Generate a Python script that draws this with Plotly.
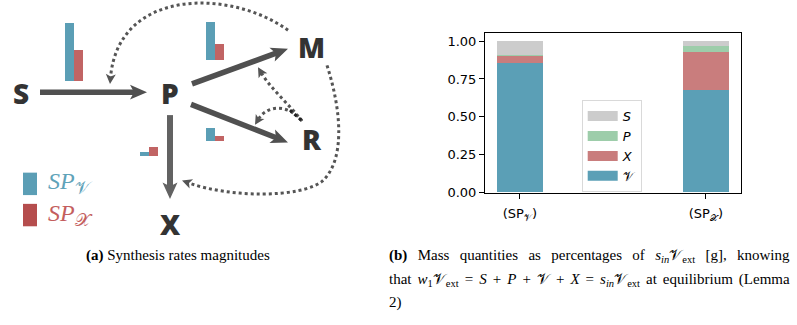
import math
import plotly.graph_objects as go

W, H = 797, 325

# ---------------- data: (b) mass fractions at equilibrium ----------------
conditions = ["(SP<sub>𝒱</sub>)", "(SP<sub>𝒳</sub>)"]
frac_V = [0.853, 0.677]
frac_X = [0.050, 0.247]
frac_P = [0.004, 0.039]
frac_S = [0.093, 0.037]
y_ticks = [0.0, 0.25, 0.5, 0.75, 1.0]

# ---------------- data: (a) synthesis rate magnitudes ----------------
reactions = ["S→P", "P→M", "P→R", "P→X"]
rate_SPV = [1.00, 0.68, 0.24, 0.07]
rate_SPX = [0.54, 0.29, 0.10, 0.15]

# colours
C_V = "#5b9fb6"
C_X = "#c97d7d"
C_P = "#9dcdaa"
C_S = "#cccccc"
C_MINI_V = "#5b9eb5"
C_MINI_X = "#c16464"
C_ARROW = "#505050"
C_DOT = "#555555"
C_NODE = "#333333"


def Y(py):
    return H - py


fig = go.Figure()

# ---------------- (b) stacked bars ----------------
xpos = list(range(len(conditions)))
for vals, col, name in [(frac_V, C_V, "V"), (frac_X, C_X, "X"),
                        (frac_P, C_P, "P"), (frac_S, C_S, "S")]:
    fig.add_trace(go.Bar(x=xpos, y=vals, width=0.25, marker_color=col,
                         marker_line_width=0, showlegend=False,
                         legendgroup=name, xaxis="x", yaxis="y"))

# legend entries (wide patches)
for name, col, label in [("S", C_S, "<i>S</i>"), ("P", C_P, "<i>P</i>"),
                         ("X", C_X, "<i>X</i>"), ("V", C_V, "𝒱")]:
    fig.add_trace(go.Scatter(x=[None], y=[None], mode="lines",
                             line=dict(color=col, width=10), name=label,
                             legendgroup=name, xaxis="x", yaxis="y"))

# ---------------- (a) mini bar charts on pixel axes ----------------
mini_anchor = [(65, 82.7), (206, 62), (206, 145), (140, 160)]
mini_w = 9
mini_scale = 58.7
fig.add_trace(go.Bar(
    x=[a[0] + mini_w / 2 for a in mini_anchor],
    y=[v * mini_scale for v in rate_SPV],
    base=[Y(a[1]) for a in mini_anchor],
    width=mini_w, marker_color=C_MINI_V, marker_line_width=0,
    showlegend=False, xaxis="x2", yaxis="y2", hovertext=reactions))
fig.add_trace(go.Bar(
    x=[a[0] + 1.5 * mini_w for a in mini_anchor],
    y=[v * mini_scale for v in rate_SPX],
    base=[Y(a[1]) for a in mini_anchor],
    width=mini_w, marker_color=C_MINI_X, marker_line_width=0,
    showlegend=False, xaxis="x2", yaxis="y2", hovertext=reactions))

shapes = []


def head(tx, ty, fx, fy, L, Wh, notch, color):
    dx, dy = tx - fx, ty - fy
    n = math.hypot(dx, dy)
    ux, uy = dx / n, dy / n
    nx, ny = -uy, ux
    bx, by = tx - L * ux, ty - L * uy
    kx, ky = tx - (L - notch) * ux, ty - (L - notch) * uy
    p = (f"M {tx},{Y(ty)} L {bx + Wh * nx},{Y(by + Wh * ny)} "
         f"L {kx},{Y(ky)} L {bx - Wh * nx},{Y(by - Wh * ny)} Z")
    shapes.append(dict(type="path", path=p, xref="x2", yref="y2",
                       fillcolor=color, line=dict(width=0)))
    return kx + ux * 1, ky + uy * 1


def thick_arrow(x0, y0, x1, y1, color=C_ARROW, width=5.5):
    ex, ey = head(x1, y1, x0, y0, 17, 7.5, 4, color)
    shapes.append(dict(type="line", x0=x0, y0=Y(y0), x1=ex, y1=Y(ey),
                       xref="x2", yref="y2",
                       line=dict(color=color, width=width)))


thick_arrow(40, 94.5, 147, 94.5)
thick_arrow(192, 86, 288, 50)
thick_arrow(191, 107, 288, 146)
thick_arrow(170, 118, 170, 204, color="#626262", width=6)


def dotted(segments, color=C_DOT, width=3):
    (sx, sy), rest = segments[0], segments[1:]
    c1, c2, end = rest[-1]
    ex, ey = head(end[0], end[1], c2[0], c2[1], 10, 5, 2.5, color)
    rest = rest[:-1] + [(c1, c2, (ex, ey))]
    p = f"M {sx},{Y(sy)}"
    for a, b, c in rest:
        p += f" C {a[0]},{Y(a[1])} {b[0]},{Y(b[1])} {c[0]},{Y(c[1])}"
    shapes.append(dict(type="path", path=p, xref="x2", yref="y2",
                       line=dict(color=color, width=width, dash="dot")))


# M -> (S->P)
dotted([(288, 31), ((230, -12), (118, -12), (110, 86))])
# R -> (P->M)
dotted([(302, 124), ((290, 108), (270, 90), (258, 69))])
# R -> (P->R)
dotted([(302, 124), ((290, 108), (268, 106), (255, 128))])
# darker overlap near R
shapes.append(dict(type="line", x0=290, y0=Y(113), x1=302, y1=Y(124),
                   xref="x2", yref="y2",
                   line=dict(color="#222222", width=3, dash="dot")))
# M -> (P->X)
dotted([(327, 67), ((342, 115), (345, 165), (322, 186)),
        ((300, 203), (230, 203), (182, 185))])

# left legend squares
shapes.append(dict(type="rect", x0=23, x1=37, y0=Y(200), y1=Y(177),
                   xref="x2", yref="y2", fillcolor="#5b9eb5", line_width=0))
shapes.append(dict(type="rect", x0=23, x1=37, y0=Y(232), y1=Y(209),
                   xref="x2", yref="y2", fillcolor="#b54d4d", line_width=0))

annotations = []
for txt, x, y in [("S", 21, 95), ("P", 170, 95), ("M", 311, 48),
                  ("R", 312, 143), ("X", 170, 230)]:
    annotations.append(dict(text=txt, x=x, y=Y(y), xref="x2", yref="y2",
                            showarrow=False, xanchor="center", yanchor="middle",
                            font=dict(family="Open Sans", size=28,
                                      color=C_NODE, weight=800)))

annotations.append(dict(text="<i>SP</i><sub><span style='font-size:18px'>𝒱</span></sub>",
                        x=46, y=Y(188),
                        xref="x2", yref="y2", showarrow=False,
                        xanchor="left", yanchor="middle",
                        font=dict(family="Liberation Serif", size=24,
                                  color="#5fa3b9")))
annotations.append(dict(text="<i>SP</i><sub><span style='font-size:18px'>𝒳</span></sub>",
                        x=46, y=Y(220),
                        xref="x2", yref="y2", showarrow=False,
                        xanchor="left", yanchor="middle",
                        font=dict(family="Liberation Serif", size=24,
                                  color="#c45e5e")))

capfont = dict(family="Liberation Serif", size=15, color="black")
annotations.append(dict(text="<b>(a)</b> Synthesis rates magnitudes",
                        x=177.5, y=Y(262), xref="x2", yref="y2",
                        showarrow=False, xanchor="center", yanchor="middle",
                        font=capfont))
cap_b = [
    "<b>(b)</b> Mass quantities as percentages of <i>s<sub>in</sub></i>𝒱<sub>ext</sub> [g], knowing",
    "that <i>w</i><sub>1</sub>𝒱<sub>ext</sub> = <i>S</i> + <i>P</i> + 𝒱 + <i>X</i> = <i>s<sub>in</sub></i>𝒱<sub>ext</sub> at equilibrium (Lemma",
    "2)",
]
for i, (line, yy) in enumerate(zip(cap_b, [262.5, 287, 310])):
    annotations.append(dict(text=line, x=387, y=Y(yy), xref="x2", yref="y2",
                            showarrow=False, xanchor="left", yanchor="middle",
                            align="left", font=capfont))

tickfont = dict(family="DejaVu Sans", size=13, color="black")
fig.update_layout(
    width=W, height=H, margin=dict(l=0, r=0, t=0, b=0),
    paper_bgcolor="white", plot_bgcolor="rgba(0,0,0,0)",
    barmode="stack", bargap=0,
    xaxis=dict(domain=[485 / W, 740.7 / W], range=[-0.1875, 1.1875],
               tickvals=xpos, ticktext=conditions, ticks="outside",
               ticklen=5, tickcolor="black", showline=True, mirror=True,
               linecolor="black", linewidth=1, showgrid=False,
               zeroline=False, tickfont=tickfont, anchor="y",
               ticklabelstandoff=4),
    yaxis=dict(domain=[1 - 197.7 / H, 1 - 34.3 / H], range=[0, 1.05],
               tickvals=y_ticks, ticktext=[f"{v:.2f}" for v in y_ticks],
               ticks="outside", ticklen=5, tickcolor="black",
               showline=True, mirror=True, linecolor="black", linewidth=1,
               showgrid=False, zeroline=False, tickfont=tickfont,
               anchor="x"),
    xaxis2=dict(domain=[0, 1], range=[0, W], visible=False, anchor="y2"),
    yaxis2=dict(domain=[0, 1], range=[0, H], visible=False, anchor="x2"),
    legend=dict(x=581.7 / W, y=1 - 102.7 / H, xanchor="left", yanchor="top",
                bgcolor="white", bordercolor="#d9d9d9", borderwidth=1,
                font=dict(family="DejaVu Sans", size=13, color="black"),
                itemwidth=30, tracegroupgap=0),
    shapes=shapes, annotations=annotations,
)

post_js = """
document.body.style.margin = '0';
var gd = document.getElementById('{plot_id}');
gd.querySelectorAll('text.annotation-text').forEach(function (t) {
  var s = t.textContent;
  if (s.indexOf('knowing') >= 0 || s.indexOf('Lemma') >= 0) {
    var w = t.getBBox().width;
    var n = (s.match(/[ \\u00a0]/g) || []).length;
    if (n > 0 && w < 401) { t.style.wordSpacing = ((401 - w) / n) + 'px'; }
  }
});
"""

fig.write_html("out.html", post_script=post_js,
               config={"displayModeBar": False})
